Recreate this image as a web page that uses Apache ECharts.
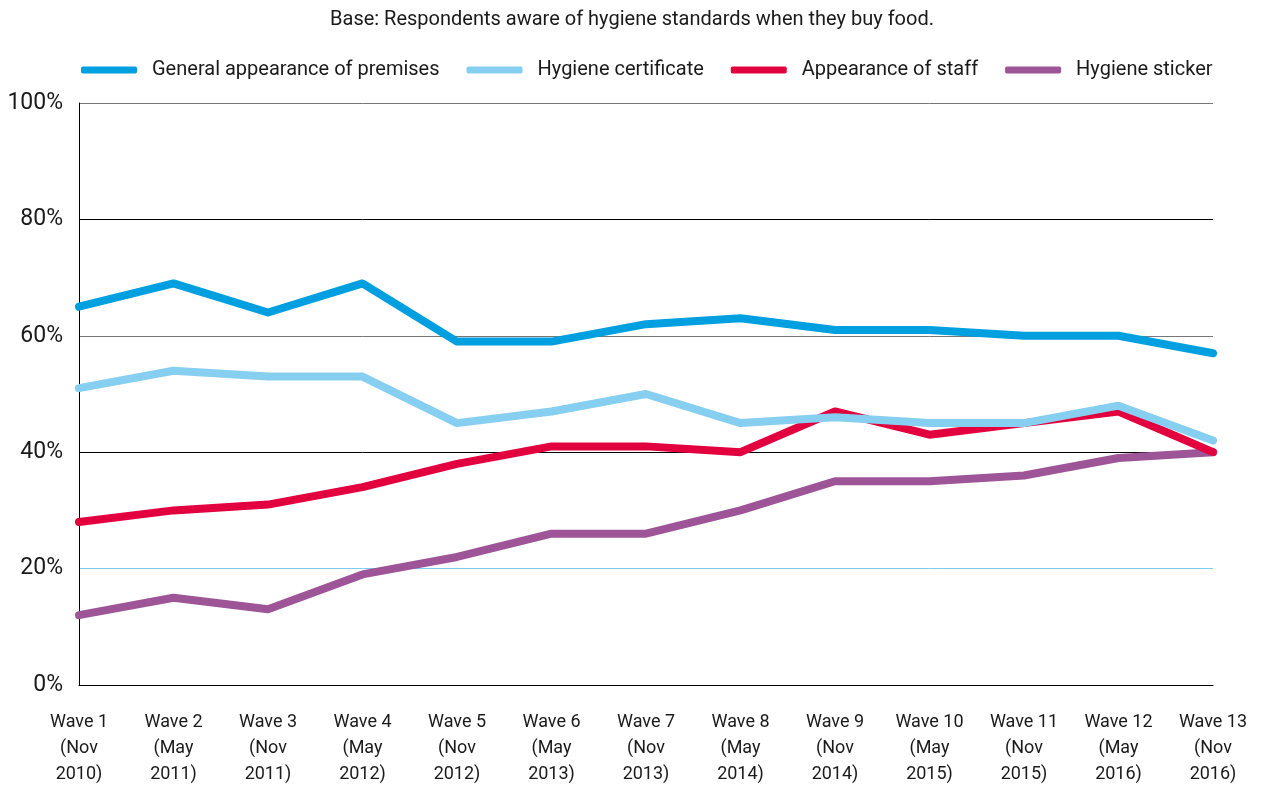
<!DOCTYPE html>
<html>
<head>
<meta charset="utf-8">
<script src="https://cdn.jsdelivr.net/npm/echarts@6/dist/echarts.min.js"></script>
<style>
  html, body { margin: 0; padding: 0; background: #fff; }
  #chart { width: 1264px; height: 787px; }
</style>
</head>
<body>
<div id="chart"></div>
<script>
// waves (x axis)
const waves = [
  'Wave 1\n(Nov\n2010)', 'Wave 2\n(May\n2011)', 'Wave 3\n(Nov\n2011)', 'Wave 4\n(May\n2012)',
  'Wave 5\n(Nov\n2012)', 'Wave 6\n(May\n2013)', 'Wave 7\n(Nov\n2013)', 'Wave 8\n(May\n2014)',
  'Wave 9\n(Nov\n2014)', 'Wave 10\n(May\n2015)', 'Wave 11\n(Nov\n2015)', 'Wave 12\n(May\n2016)',
  'Wave 13\n(Nov\n2016)'
]
// % of respondents
const generalPremises = [65, 69, 64, 69, 59, 59, 62, 63, 61, 61, 60, 60, 57]
const hygieneCertificate = [51, 54, 53, 53, 45, 47, 50, 45, 46, 45, 45, 48, 42]
const appearanceStaff = [28, 30, 31, 34, 38, 41, 41, 40, 47, 43, 45, 47, 40]
const hygieneSticker = [12, 15, 13, 19, 22, 26, 26, 30, 35, 35, 36, 39, 40]
const yTicks = [0, 20, 40, 60, 80, 100]

const font = 'Roboto, "Noto Sans", sans-serif'
const chart = echarts.init(document.getElementById('chart'))

function mkLine (name, data, color, z) {
  return {
    name: name,
    type: 'line',
    data: data,
    symbol: 'none',
    z: z,
    lineStyle: { width: 8, color: color, cap: 'round', join: 'round' },
    itemStyle: { color: color }
  }
}

const option = {
  animation: false,
  title: {
    text: 'Base: Respondents aware of hygiene standards when they buy food.',
    left: 'center',
    top: 5,
    textStyle: { fontFamily: font, fontSize: 20, fontWeight: 'normal', color: '#1a1a1a' }
  },
  legend: {
    top: 55,
    left: 76,
    itemWidth: 56,
    itemHeight: 7,
    itemGap: 27,
    icon: 'roundRect',
    data: ['General appearance of premises', 'Hygiene certificate', 'Appearance of staff', 'Hygiene sticker'],
    textStyle: { fontFamily: font, fontSize: 20, color: '#1a1a1a', padding: [0, 0, 0, 10] }
  },
  grid: { left: 79, right: 51, top: 103, bottom: 101, containLabel: false },
  xAxis: {
    type: 'category',
    data: waves,
    boundaryGap: false,
    axisLine: { lineStyle: { color: '#000', width: 1 } },
    axisTick: { show: false },
    axisLabel: {
      fontFamily: font, fontSize: 18, color: '#1a1a1a', lineHeight: 26, margin: 24, interval: 0
    }
  },
  yAxis: {
    type: 'value',
    min: 0,
    max: 100,
    interval: 20,
    axisLine: { show: true, lineStyle: { color: '#000', width: 1 } },
    axisTick: { show: false },
    axisLabel: {
      fontFamily: font, fontSize: 23, color: '#1a1a1a', margin: 16,
      formatter: function (v) { return yTicks.indexOf(v) >= 0 ? v + '%' : '' }
    },
    splitLine: {
      lineStyle: { width: 1, color: ['#000', '#7fcdee', '#000', '#777', '#000', '#777'] }
    }
  },
  series: [
    mkLine('Hygiene sticker', hygieneSticker, '#9e5598', 2),
    mkLine('Appearance of staff', appearanceStaff, '#e2003f', 3),
    mkLine('Hygiene certificate', hygieneCertificate, '#87cff0', 4),
    mkLine('General appearance of premises', generalPremises, '#009fe0', 5)
  ]
}
chart.setOption(option)
</script>
</body>
</html>
